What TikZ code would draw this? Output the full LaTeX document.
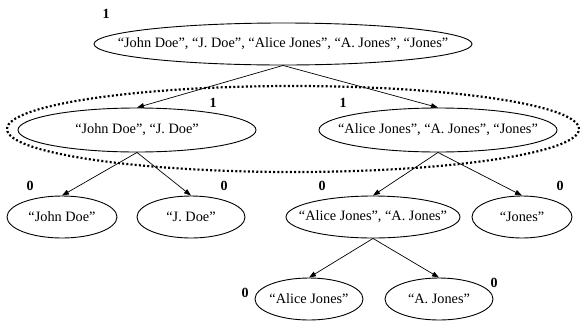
\documentclass[tikz,border=0pt]{standalone}
\usepackage{fontspec}
\setmainfont{Liberation Serif}
\usetikzlibrary{shapes.geometric,arrows.meta}
% text set in a zero-width box, so the ellipse keeps its given size
\newcommand{\ovaltext}[1]{\makebox[0pt]{#1}}
\begin{document}
\begin{tikzpicture}[x=1pt,y=-1pt,
  oval/.style={draw,ellipse,line width=0.9pt,inner sep=0pt,minimum height=42pt,
    font=\fontsize{14.3}{16}\selectfont},
  link/.style={line width=0.7pt,-{Triangle[length=7pt,width=5pt]}},
  weight/.style={font=\fontsize{14}{16}\selectfont\bfseries,inner sep=0pt},
  grouping/.style={draw,ellipse,line width=2.2pt,dash pattern=on 2pt off 2.2pt,inner sep=0pt}]
\useasboundingbox (0,0) rectangle (580,322);

% cluster of the second level
\node[grouping,minimum width=572pt,minimum height=86pt] (grp) at (293,129) {};

% tree nodes
\node[oval,minimum width=378pt] (all) at (283,44)
  {\ovaltext{“John Doe”, “J. Doe”, “Alice Jones”, “A. Jones”, “Jones”}};
\node[oval,minimum width=238pt,minimum height=44pt] (doe) at (137,130) {\ovaltext{“John Doe”, “J. Doe”}};
\node[oval,minimum width=238pt,minimum height=44pt] (jones) at (438,130) {\ovaltext{“Alice Jones”, “A. Jones”, “Jones”}};
\node[oval,minimum width=110pt] (jd) at (62,217) {\ovaltext{“John Doe”}};
\node[oval,minimum width=108pt] (jdot) at (191,217) {\ovaltext{“J. Doe”}};
\node[oval,minimum width=174pt] (aj) at (373,217) {\ovaltext{“Alice Jones”, “A. Jones”}};
\node[oval,minimum width=100pt] (jn) at (522,217) {\ovaltext{“Jones”}};
\node[oval,minimum width=108pt] (alice) at (309,299) {\ovaltext{“Alice Jones”}};
\node[oval,minimum width=108pt] (ajn) at (439,299) {\ovaltext{“A. Jones”}};

% edges
\draw[link] (all.south) -- (doe.north);
\draw[link] (all.south) -- (jones.north);
\draw[link] (doe.south) -- (jd.north);
\draw[link] (doe.south) -- (jdot.north);
\draw[link] (jones.south) -- (aj.north);
\draw[link] (jones.south) -- (jn.north);
\draw[link] (aj.south) -- (alice.north);
\draw[link] (aj.south) -- (ajn.north);

% weights
\node[weight] (w1) at (106,14) {1};
\node[weight] (w2) at (213,103) {1};
\node[weight] (w3) at (343,103) {1};
\node[weight] (w4) at (30,186) {0};
\node[weight] (w5) at (224,186) {0};
\node[weight] (w6) at (322,186) {0};
\node[weight] (w7) at (560,186) {0};
\node[weight] (w8) at (245,293) {0};
\node[weight] (w9) at (494,283) {0};
\end{tikzpicture}
\end{document}
